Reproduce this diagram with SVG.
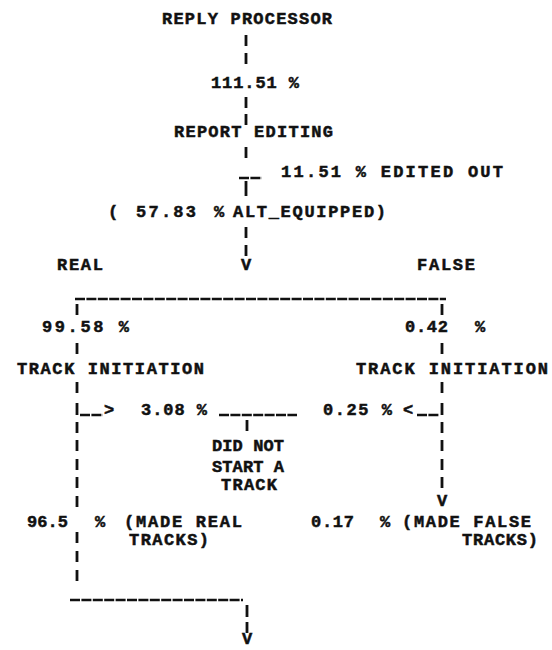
<svg xmlns="http://www.w3.org/2000/svg" width="552" height="650" viewBox="0 0 552 650">
<style>
text{font-family:"Liberation Mono","DejaVu Sans Mono",monospace;font-weight:bold;font-size:17px;fill:#111;stroke:#111;stroke-width:0.5;}
.bar{stroke:#111;stroke-width:2.8;fill:none;}
.us{stroke:#111;stroke-width:2.4;fill:none;stroke-dasharray:10 1.4;}
</style>
<rect width="552" height="650" fill="#fff"/>
<g id="connectors">
<path class="bar" d="M246 35V46M246 53V64M246 97V108M246 114V125M246 147V158M246 181V196M246 227V238M246 245V256"/>
<path class="us" d="M239 178H262"/>
<text x="241" y="270">V</text>
<path class="us" d="M75 299H446"/>
<path class="bar" d="M77 304V315M77 343V354M77 382V393M77 403V415M77 422V433M77 440V451M77 459V470M77 477V488M77 496V507M77 532V543M77 551V562M77 570V581"/>
<path class="us" d="M80 415H103"/>
<text x="104" y="415">&gt;</text>
<path class="us" d="M219 415H297"/>
<path class="bar" d="M247 420V431"/>
<path class="bar" d="M442 304V315M442 343V354M442 382V393M442 403V415M442 422V433M442 440V451M442 459V470M442 477V488"/>
<path class="us" d="M417 415H439"/>
<text x="403" y="415">&lt;</text>
<text x="437" y="506">V</text>
<path class="us" d="M70 600H243"/>
<path class="bar" d="M247 605V617M247 622V633"/>
<text x="242" y="644">V</text>
</g>
<g id="reply-processor"><text x="162" y="24" textLength="170" lengthAdjust="spacing">REPLY PROCESSOR</text></g>
<g id="pct-111"><text x="211" y="88" textLength="88" lengthAdjust="spacing">111.51 %</text></g>
<g id="report-editing"><text x="174" y="137" textLength="159" lengthAdjust="spacing">REPORT EDITING</text></g>
<g id="edited-out"><text x="281" y="177" textLength="222" lengthAdjust="spacing">11.51 %  EDITED OUT</text></g>
<g id="alt-equipped">
<text x="108" y="217">(</text>
<text x="136" y="217" textLength="60" lengthAdjust="spacing">57.83</text>
<text x="214" y="217">%</text>
<text x="233" y="217" textLength="153" lengthAdjust="spacing">ALT_EQUIPPED)</text>
</g>
<g id="real-label"><text x="57" y="270" textLength="46" lengthAdjust="spacing">REAL</text></g>
<g id="false-label"><text x="417" y="270" textLength="58" lengthAdjust="spacing">FALSE</text></g>
<g id="pct-real"><text x="42" y="332" textLength="87" lengthAdjust="spacing">99.58 %</text></g>
<g id="pct-false"><text x="405" y="332" textLength="43" lengthAdjust="spacing">0.42</text><text x="475" y="332">%</text></g>
<g id="track-init-real"><text x="17" y="374" textLength="187" lengthAdjust="spacing">TRACK INITIATION</text></g>
<g id="track-init-false"><text x="356" y="374" textLength="192" lengthAdjust="spacing">TRACK INITIATION</text></g>
<g id="pct-308"><text x="141" y="415" textLength="66" lengthAdjust="spacing">3.08 %</text></g>
<g id="pct-025"><text x="323" y="415" textLength="69" lengthAdjust="spacing">0.25 %</text></g>
<g id="did-not-start">
<text x="212" y="451" textLength="72" lengthAdjust="spacing">DID NOT</text>
<text x="212" y="472" textLength="72" lengthAdjust="spacing">START A</text>
<text x="221" y="490" textLength="56" lengthAdjust="spacing">TRACK</text>
</g>
<g id="made-real">
<text x="27" y="527" textLength="41" lengthAdjust="spacing">96.5</text>
<text x="95" y="527">%</text>
<text x="124" y="527" textLength="118" lengthAdjust="spacing">(MADE REAL</text>
<text x="129" y="545" textLength="80" lengthAdjust="spacing">TRACKS)</text>
</g>
<g id="made-false">
<text x="311" y="527" textLength="43" lengthAdjust="spacing">0.17</text>
<text x="380" y="527">%</text>
<text x="402" y="527" textLength="129" lengthAdjust="spacing">(MADE FALSE</text>
<text x="462" y="545" textLength="76" lengthAdjust="spacing">TRACKS)</text>
</g>
</svg>
